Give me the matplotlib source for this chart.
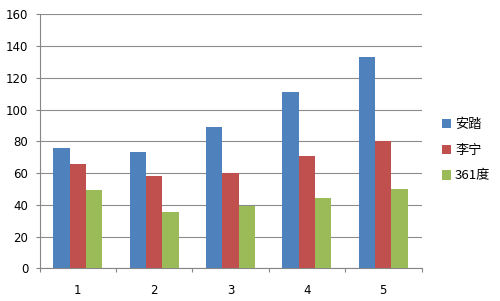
import matplotlib
matplotlib.use("Agg")
import matplotlib.pyplot as plt
import numpy as np

plt.rcParams['font.family'] = ['Noto Sans CJK SC', 'DejaVu Sans']

categories = ["1", "2", "3", "4", "5"]
series_names = ["安踏", "李宁", "361度"]
anta = [76, 73, 89, 111, 133]
lining = [66, 58, 60, 71, 80]
d361 = [49.5, 35.5, 39, 44, 50]
colors = ["#4F81BD", "#C0504D", "#9BBB59"]
yticks = [0, 20, 40, 60, 80, 100, 120, 140, 160]

fig = plt.figure(figsize=(5.0, 3.01), dpi=100)
ax = fig.add_axes([0.079, 0.1086, 0.764, 0.8439])

x = np.arange(1, len(categories) + 1)
w = 0.214
for i, (vals, c, name) in enumerate(zip([anta, lining, d361], colors, series_names)):
    ax.bar(x + (i - 1) * w, vals, width=w, color=c, label=name, zorder=3, linewidth=0)

ax.set_xlim(0.5, 5.5)
ax.set_ylim(0, 160)
ax.set_yticks(yticks)
ax.set_yticklabels([str(v) for v in yticks], fontsize=8.5, family='DejaVu Sans')
ax.set_xticks(x)
ax.set_xticklabels(categories, fontsize=8.5, family='DejaVu Sans')
ax.set_xticks(np.arange(0.5, 5.6, 1.0), minor=True)
ax.tick_params(axis='x', which='major', length=0, pad=11)
ax.tick_params(axis='x', which='minor', length=3, color='#868686', width=0.8)
ax.tick_params(axis='y', length=3, color='#868686', width=0.8, pad=5)
ax.yaxis.grid(True, color='#8c8c8c', linewidth=0.8, zorder=0)
ax.set_axisbelow(True)
for s in ['top', 'right']:
    ax.spines[s].set_visible(False)
for s in ['left', 'bottom']:
    ax.spines[s].set_color('#868686')
    ax.spines[s].set_linewidth(0.8)

leg = fig.legend(loc='center left', bbox_to_anchor=(0.86, 0.50), frameon=False,
                 fontsize=9.5, handlelength=0.7, handleheight=0.7, handletextpad=0.3,
                 labelspacing=0.95)

fig.savefig("out.png", dpi=100)
